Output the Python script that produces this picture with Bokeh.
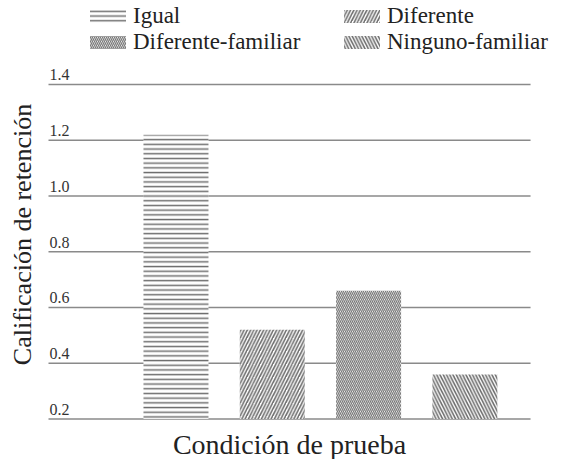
import math
from bokeh.plotting import figure
from bokeh.models import Range1d, ColumnDataSource, Legend, LegendItem, Label
from bokeh.core.properties import value
from bokeh.embed import file_html
from bokeh.resources import INLINE

categories = ["Igual", "Diferente", "Diferente-familiar", "Ninguno-familiar"]
scores = [1.22, 0.52, 0.66, 0.36]
y_ticks = [0.2, 0.4, 0.6, 0.8, 1.0, 1.2, 1.4]
y_tick_labels = ["0.2", "0.4", "0.6", "0.8", "1.0", "1.2", "1.4"]
x_label = "Condición de prueba"
y_label = "Calificación de retención"

hatches = ["horizontal_line", "right_diagonal_line", "left_diagonal_line", "left_diagonal_line"]
hatch_scales = [4.7, 6.5, 4.0, 6.5]
hatch_weights = [1.5, 1.6, 1.3, 1.6]
hatch_colors = ["#6e6e6e", "#6e6e6e", "#7a7a7a", "#6e6e6e"]

SERIF = "Liberation Serif"
BASE = 0.2
# layout: the frame covers the whole canvas; plotting area spans GRID_X0..GRID_X1
X_START, X_END = -1.822, 4.003
Y_START, Y_END = 0.0547, 1.7013
GRID_X0, GRID_X1 = -1.3236, 3.6816
XLABEL_Y = 0.11

p = figure(width=561, height=459, output_backend="svg", toolbar_location=None,
           x_range=Range1d(X_START, X_END), y_range=Range1d(Y_START, Y_END),
           min_border_left=0, min_border_right=0, min_border_top=0, min_border_bottom=0)
p.outline_line_color = None
p.background_fill_color = "white"
p.border_fill_color = "white"
p.xaxis.visible = False
p.yaxis.visible = False
p.xgrid.visible = False
p.ygrid.visible = False

# horizontal gridlines
gsrc = ColumnDataSource(dict(x0=[GRID_X0] * len(y_ticks), x1=[GRID_X1] * len(y_ticks), y=y_ticks))
p.segment(x0="x0", x1="x1", y0="y", y1="y", source=gsrc, line_color="#8a8a8a", line_width=1.6)

# tick labels above gridlines
tsrc = ColumnDataSource(dict(x=[GRID_X0] * len(y_ticks), y=y_ticks, t=y_tick_labels))
p.text(x="x", y="y", text="t", source=tsrc, text_font=value(SERIF), text_font_size="16px",
       text_color="#333333", text_baseline="bottom", text_align="left",
       x_offset=1, y_offset=-4)

# axis titles
p.add_layout(Label(x=(GRID_X0 + GRID_X1) / 2, y=XLABEL_Y, text=x_label,
                   text_font=SERIF, text_font_size="28px", text_color="#222222",
                   text_align="center", text_baseline="middle"))
p.add_layout(Label(x=22, y=225, x_units="screen", y_units="screen", text=y_label,
                   angle=math.pi / 2, text_font=SERIF, text_font_size="26px", text_color="#222222",
                   text_align="center", text_baseline="middle"))

renderers = []
for i, (cat, s) in enumerate(zip(categories, scores)):
    r = p.vbar(x=[i], top=[s], bottom=BASE, width=0.675, fill_color="white", line_color=None,
               hatch_pattern=hatches[i], hatch_scale=hatch_scales[i], hatch_weight=hatch_weights[i],
               hatch_color=hatch_colors[i])
    renderers.append(r)

def make_legend(idx, x):
    lg = Legend(items=[LegendItem(label=categories[j], renderers=[renderers[j]]) for j in idx],
                location=(x, 404), orientation="vertical",
                label_text_font=SERIF, label_text_font_size="23px", label_text_color="#222222",
                glyph_width=45, glyph_height=16, label_height=20, label_standoff=3,
                spacing=-3, padding=0, margin=0, border_line_color=None,
                background_fill_alpha=0)
    return lg

p.add_layout(make_legend([0, 2], 85), "center")
p.add_layout(make_legend([1, 3], 339), "center")

open("out.html", "w").write(file_html(p, INLINE))
